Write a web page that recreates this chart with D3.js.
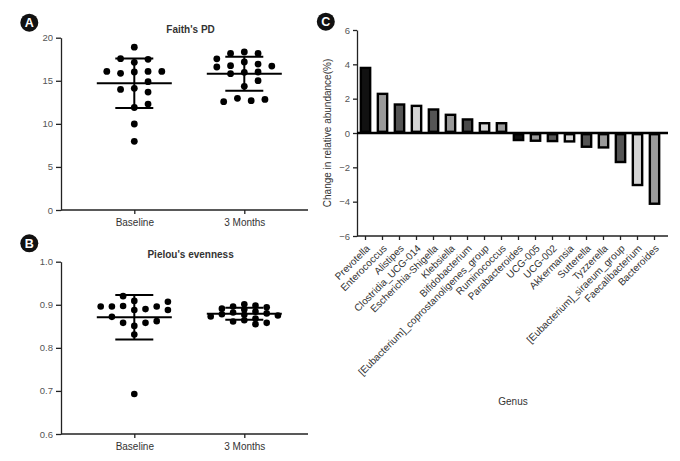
<!DOCTYPE html>
<html><head><meta charset="utf-8">
<script src="https://cdn.jsdelivr.net/npm/d3@7"></script>
<style>
body{margin:0;background:#fff;}
svg{display:block;font-family:"Liberation Sans",Arial,sans-serif;}
svg text{opacity:0.995;}
</style></head><body>
<svg id="chart" width="680" height="461"></svg>
<script>
// ---------------- data ----------------
const groups = ["Baseline", "3 Months"];

// Panel A: Faith's PD
const faithBaseline = [18.9, 17.14, 17.49, 17.56, 16.02, 16.09, 15.86, 16.09, 16.09, 14.12, 13.69, 14.0, 14.89, 11.9, 12.3, 9.98, 7.97];
const faith3Months = [18.34, 18.18, 18.18, 17.18, 16.94, 16.75, 16.71, 16.6, 17.55, 14.35, 15.98, 16.02, 15.82, 15.01, 12.96, 12.69, 12.57, 12.84];
const faithTicks = [0, 5, 10, 15, 20];

// Panel B: Pielou's evenness
const pielouBaseline = [0.909, 0.888, 0.920, 0.897, 0.890, 0.896, 0.896, 0.896, 0.907, 0.888, 0.851, 0.858, 0.858, 0.872, 0.862, 0.831, 0.693];
const pielou3Months = [0.901, 0.898, 0.896, 0.894, 0.891, 0.889, 0.884, 0.882, 0.880, 0.878, 0.877, 0.875, 0.873, 0.868, 0.864, 0.861, 0.858, 0.855];
const pielouTicks = [0.6, 0.7, 0.8, 0.9, 1.0];

// Panel C: change in relative abundance
const genera = ["Prevotella", "Enterococcus", "Alistipes", "Clostridia_UCG-014", "Escherichia-Shigella", "Klebsiella",
  "Bifidobacterium", "[Eubacterium]_coprostanoligenes_group", "Ruminococcus", "Parabacteroides", "UCG-005", "UCG-002",
  "Akkermansia", "Sutterella", "Tyzzerella", "[Eubacterium]_siraeum_group", "Faecalibacterium", "Bacteroides"];
const abundanceChange = [3.86, 2.35, 1.73, 1.65, 1.44, 1.13, 0.86, 0.64, 0.64, -0.48, -0.52, -0.54, -0.56, -0.87, -0.91, -1.76, -3.10, -4.19];
const changeTicks = [-6, -4, -2, 0, 2, 4, 6];

// ---------------- styles ----------------
const barFills = ["#111", "#9a9a9a", "#555", "#d4d4d4", "#555", "#9a9a9a", "#4a4a4a", "#d4d4d4", "#9a9a9a",
  "#111", "#9a9a9a", "#555", "#d4d4d4", "#555", "#9a9a9a", "#555", "#d4d4d4", "#9a9a9a"];
const AXIS = "#222", TICKTXT = "#555";

const svg = d3.select("#chart");

function styleAxis(sel, fs) {
  sel.selectAll(".domain").attr("stroke", AXIS).attr("stroke-width", 1.3);
  sel.selectAll(".tick line").attr("stroke", AXIS).attr("stroke-width", 1.3);
  sel.selectAll(".tick text").attr("fill", TICKTXT).style("font-size", fs + "px");
}

function badge(x, y, letter) {
  svg.append("circle").attr("cx", x).attr("cy", y).attr("r", 9).attr("fill", "#111");
  svg.append("text").attr("x", x).attr("y", y).attr("dy", "0.36em").attr("text-anchor", "middle")
    .attr("fill", "#fff").style("font-weight", "bold").style("font-size", "12.5px").text(letter);
}

// discrete-column scatter layout (Prism style)
function swarmLayout(values, y, cx, step, thr, firstSide) {
  const order = [0];
  for (let k = 1; k <= 6; k++) order.push(k * firstSide, -k * firstSide);
  const pts = [];
  values.forEach(v => {
    const py = y(v);
    const col = order.find(c => !pts.some(p => p.col === c && Math.abs(p.py - py) < thr));
    pts.push({ v, py, col });
  });
  const seen = new Array(pts.length).fill(false);
  for (let i = 0; i < pts.length; i++) {
    if (seen[i]) continue;
    const comp = [i]; seen[i] = true;
    for (let q = 0; q < comp.length; q++) {
      for (let j = 0; j < pts.length; j++) {
        if (!seen[j] && Math.abs(pts[comp[q]].py - pts[j].py) < thr) { seen[j] = true; comp.push(j); }
      }
    }
    const ys = comp.map(k => pts[k].py);
    if (comp.length >= 3 && d3.max(ys) - d3.min(ys) < thr) {
      const m = d3.mean(comp, k => pts[k].col);
      comp.forEach(k => { pts[k].col -= m; });
    }
  }
  return pts.map(p => ({ v: p.v, x: cx + p.col * step, y: p.py }));
}

function dotPanel(cfg) {
  const g = svg.append("g");
  const x = d3.scalePoint().domain(groups).range([134.3, 244.3]);
  const y = d3.scaleLinear().domain(cfg.domain).range([cfg.bottom, cfg.top]);

  const ya = g.append("g").attr("transform", "translate(61,0)")
    .call(d3.axisLeft(y).tickValues(cfg.ticks).tickSize(5).tickSizeOuter(0).tickFormat(cfg.fmt));
  styleAxis(ya, 9.5);

  const xa = g.append("g").attr("transform", `translate(0,${cfg.bottom})`)
    .call(d3.axisBottom(x).tickSize(4).tickPadding(5));
  xa.select(".domain").remove();
  styleAxis(xa, 10);
  xa.selectAll(".tick text").attr("fill", "#333");
  g.append("line").attr("x1", 61).attr("x2", 308).attr("y1", cfg.bottom).attr("y2", cfg.bottom)
    .attr("stroke", AXIS).attr("stroke-width", 1.3);

  g.append("text").attr("x", 190.6).attr("y", cfg.titleY).attr("text-anchor", "middle")
    .attr("fill", "#333").style("font-weight", "bold").style("font-size", "10px").text(cfg.title);

  cfg.series.forEach((s, i) => {
    const cx = x(groups[i]);
    const m = d3.mean(s.values), sd = d3.deviation(s.values);
    const pts = swarmLayout(s.values, y, cx, cfg.step, s.thr, s.side);
    g.append("g").selectAll("circle").data(pts).join("circle")
      .attr("cx", d => d.x).attr("cy", d => d.y).attr("r", cfg.r).attr("fill", "#000");
    const eb = g.append("g").attr("stroke", "#000").attr("stroke-width", 2);
    eb.append("line").attr("x1", cx).attr("x2", cx).attr("y1", y(m + sd)).attr("y2", y(m - sd));
    eb.append("line").attr("x1", cx - 19).attr("x2", cx + 19).attr("y1", y(m + sd)).attr("y2", y(m + sd));
    eb.append("line").attr("x1", cx - 19).attr("x2", cx + 19).attr("y1", y(m - sd)).attr("y2", y(m - sd));
    eb.append("line").attr("x1", cx - 37.5).attr("x2", cx + 37.5).attr("y1", y(m)).attr("y2", y(m));
  });
}

// Panel A
dotPanel({
  domain: [0, 20], bottom: 210, top: 37.7, ticks: faithTicks, fmt: d3.format("d"),
  title: "Faith's PD", titleY: 32.8, step: 13.75, r: 3.4,
  series: [{ values: faithBaseline, thr: 7.5, side: 1 }, { values: faith3Months, thr: 7.5, side: 1 }]
});
badge(29.3, 22.7, "A");

// Panel B
dotPanel({
  domain: [0.6, 1.0], bottom: 434, top: 261.7, ticks: pielouTicks, fmt: d3.format(".1f"),
  title: "Pielou's evenness", titleY: 257.8, step: 11.2, r: 3.3,
  series: [{ values: pielouBaseline, thr: 7.5, side: -1 }, { values: pielou3Months, thr: 5, side: 1 }]
});
badge(29.3, 243.3, "B");

// Panel C
(function () {
  const g = svg.append("g");
  const x = d3.scaleBand().domain(genera).range([357, 663]).paddingInner(0.31).paddingOuter(0.155);
  const y = d3.scaleLinear().domain([-6, 6]).range([236, 30]);
  const bw = x.bandwidth(), ins = 2.4;

  const ya = g.append("g").attr("transform", "translate(357,0)")
    .call(d3.axisLeft(y).tickValues(changeTicks).tickSize(4).tickSizeOuter(0));
  styleAxis(ya, 9.5);

  const xa = g.append("g").attr("transform", "translate(0,236)")
    .call(d3.axisBottom(x).tickSize(4).tickFormat(""));
  xa.select(".domain").remove();
  styleAxis(xa, 10);
  g.append("line").attr("x1", 357).attr("x2", 668).attr("y1", 236).attr("y2", 236)
    .attr("stroke", AXIS).attr("stroke-width", 1.3);

  const bars = g.append("g").selectAll("g").data(genera).join("g");
  bars.append("rect")
    .attr("x", d => x(d)).attr("width", bw)
    .attr("y", (d, i) => Math.min(y(abundanceChange[i]), y(0)))
    .attr("height", (d, i) => Math.abs(y(abundanceChange[i]) - y(0)))
    .attr("fill", "#000");
  bars.append("rect")
    .attr("x", d => x(d) + ins).attr("width", bw - 2 * ins)
    .attr("y", (d, i) => Math.min(y(abundanceChange[i]), y(0)) + ins)
    .attr("height", (d, i) => Math.max(0, Math.abs(y(abundanceChange[i]) - y(0)) - 2 * ins))
    .attr("fill", (d, i) => barFills[i]);

  g.append("line").attr("x1", 357).attr("x2", 668).attr("y1", y(0)).attr("y2", y(0))
    .attr("stroke", "#000").attr("stroke-width", 2.6);

  g.append("g").selectAll("text").data(genera).join("text")
    .attr("transform", d => `translate(${x(d) + bw / 2 + 5},${249}) rotate(-45)`)
    .attr("text-anchor", "end").attr("fill", "#333").style("font-size", "10px").text(d => d);

  g.append("text").attr("transform", "translate(327.3,133) rotate(-90)").attr("dy", "0.35em")
    .attr("text-anchor", "middle").attr("fill", "#333").style("font-size", "10px")
    .text("Change in relative abundance(%)");
  g.append("text").attr("x", 513).attr("y", 405).attr("text-anchor", "middle")
    .attr("fill", "#333").style("font-size", "10px").text("Genus");
})();
badge(325.8, 21.7, "C");
</script>
</body></html>
